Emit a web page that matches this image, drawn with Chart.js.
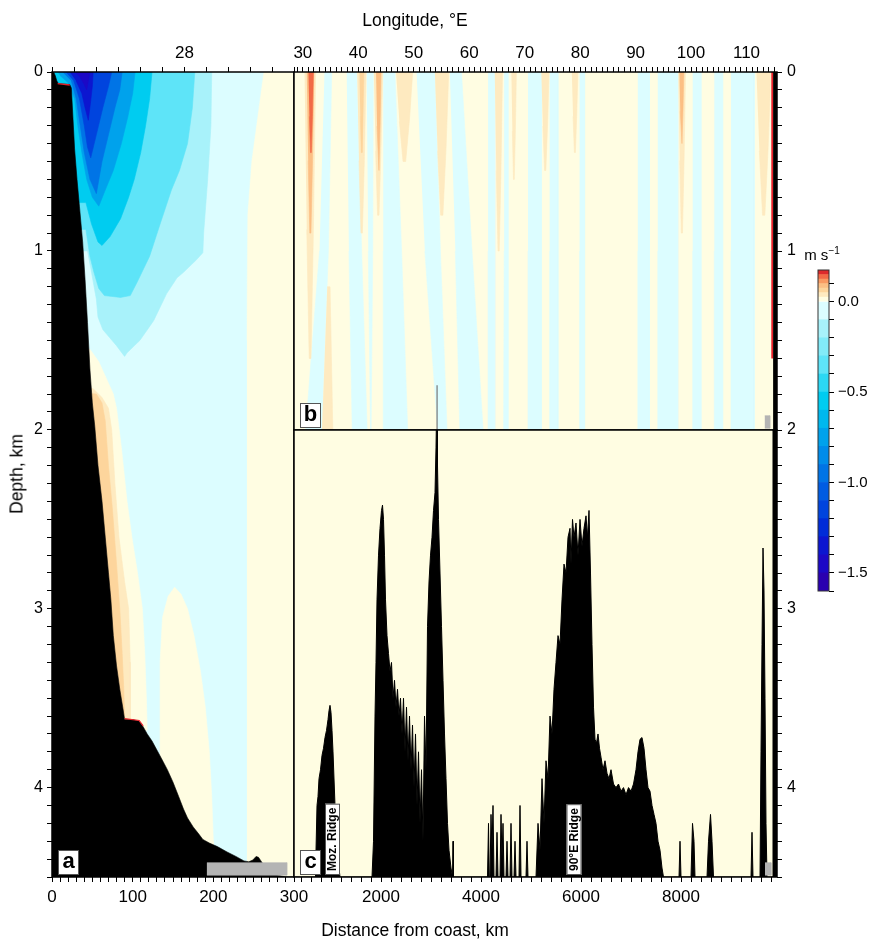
<!DOCTYPE html>
<html>
<head>
<meta charset="utf-8">
<script src="https://cdn.jsdelivr.net/npm/chart.js@4.4.0/dist/chart.umd.min.js"></script>
<style>
  body { margin:0; background:#fff; width:877px; height:939px; position:relative; overflow:hidden;
         font-family:"Liberation Sans", Arial, sans-serif; }
  canvas { position:absolute; }
  .lbl { position:absolute; color:#000; white-space:nowrap; transform:translate(-50%,-50%); }
</style>
</head>
<body>
<canvas id="panelA" width="320" height="939" style="left:0;top:0"></canvas>
<canvas id="panelB" width="597" height="440" style="left:280px;top:0"></canvas>
<canvas id="panelC" width="597" height="519" style="left:280px;top:420px"></canvas>
<canvas id="cbar" width="87" height="370" style="left:790px;top:240px"></canvas>
<div class="lbl" style="left:415px;top:20px;font-size:17.5px">Longitude, °E</div>
<div class="lbl" style="left:415px;top:930px;font-size:17.5px">Distance from coast, km</div>
<div class="lbl" style="left:17px;top:474px;font-size:17.5px;transform:translate(-50%,-50%) rotate(-90deg)">Depth, km</div>
<div class="lbl" style="left:822px;top:254px;font-size:15px">m s<sup style="font-size:10px">−1</sup></div>
<script>
const FONT = "'Liberation Sans', Arial, Helvetica, sans-serif";

// colour scale, m/s
const cbEdges = [-1.6,-1.5,-1.4,-1.3,-1.2,-1.1,-1.0,-0.9,-0.8,-0.7,-0.6,-0.5,-0.4,-0.3,-0.2,-0.1,0,0.025,0.05,0.075,0.1,0.125,0.15,0.175];
const cbColors = ['#2a00b0','#1c08c6','#0c16d0','#002cd8','#0044de','#005ce2','#0074e6','#008cea','#00a2ec','#00b8ee','#00ccf0','#2cd8f4','#5ee4f8','#82ebf8','#a8f2fa','#dcfdff','#fffde2','#feeac0','#fdd59c','#fcbf84','#f99a62','#f26a46','#dc2a2c'];
const cbTickLabels = [0, -0.5, -1.0, -1.5];

// axis tick labels
const distLabelsA = [0, 100, 200, 300];
const lonLabelsA = [28];
const depthLabels = [0, 1, 2, 3, 4];
const lonLabelsB = [30, 40, 50, 60, 70, 80, 90, 100, 110];
const distLabelsC = [2000, 4000, 6000, 8000];

// panel a: velocity regions [distance km, depth km] and their velocity
const regionBgA = [[0,0],[300,0],[300,4.5],[0,4.5]];
const velBgA = 0.01;
const regionE = [[0,0],[262,0],[256,0.2],[247,0.5],[242,0.8],[241,1.5],[241,4.5],[0,4.5]];
const velE = -0.05;
const regionDome = [[134,4.5],[134,3.7],[134,3.3],[137,3.05],[144,2.93],[152,2.88],[160,2.92],[168,3.0],[176,3.15],[184,3.35],[190,3.55],[195,3.8],[198,4.05],[200,4.3],[200,4.5]];
const velDome = 0.01;
const regionP1 = [[0,1.52],[47,1.55],[58,1.62],[68,1.72],[76,1.8],[80,1.88],[86,2.1],[93,2.4],[99,2.6],[106,2.8],[112,3.0],[115,3.25],[117,3.5],[118,3.68],[0,3.68]];
const velP1 = 0.01;
const regionP2 = [[0,1.75],[51,1.77],[62,1.82],[70,1.88],[74,2.0],[78,2.3],[83,2.6],[90,2.85],[95,3.0],[97,3.3],[97,3.64],[0,3.64]];
const velP2 = 0.035;
const regionP3 = [[0,1.78],[55,1.8],[62,1.85],[66,1.95],[70,2.2],[75,2.45],[80,2.75],[84,3.0],[87,3.25],[89,3.45],[90,3.62],[0,3.62]];
const velP3 = 0.06;
const regionD = [[0,0],[198,0],[197,0.3],[193,0.6],[188,0.9],[187,1.01],[179,1.05],[163,1.12],[155,1.15],[142,1.24],[126,1.39],[109,1.5],[93,1.57],[90,1.59],[80,1.53],[63,1.44],[57,1.37],[55,1.27],[49,1.12],[44,1.0],[0,1.0]];
const velD = -0.15;
const regionC = [[0,0],[177,0],[174,0.2],[168,0.4],[158,0.55],[148,0.66],[134,0.85],[121,1.03],[105,1.18],[97,1.25],[85,1.26],[65,1.25],[58,1.21],[52,1.12],[47,1.03],[42,0.88],[0,0.88]];
const velC = -0.35;
const regionB = [[0,0],[124,0],[121,0.15],[116,0.3],[110,0.45],[102,0.6],[95,0.7],[85,0.82],[72,0.92],[62,0.97],[57,0.95],[49,0.85],[42,0.73],[0,0.73]];
const velB = -0.55;
const regionL4 = [[7,0],[103,0],[100,0.12],[94,0.25],[86,0.4],[76,0.55],[66,0.66],[58,0.75],[50,0.7],[43,0.6],[37,0.45],[32,0.3],[28,0.15],[20,0.06],[10,0.02]];
const velL4 = -0.75;
const regionL3 = [[13,0],[87,0],[84,0.1],[78,0.2],[70,0.35],[62,0.5],[55,0.68],[47,0.6],[40,0.45],[35,0.3],[30,0.15],[24,0.05]];
const velL3 = -0.95;
const regionL2 = [[17,0],[74,0],[70,0.08],[63,0.2],[55,0.35],[48,0.48],[44,0.42],[40,0.3],[34,0.15],[27,0.05]];
const velL2 = -1.15;
const regionL1 = [[22,0],[51,0],[50,0.08],[48,0.16],[45,0.27],[41,0.2],[37,0.12],[30,0.05]];
const velL1 = -1.35;
const regionL0 = [[28,0],[47,0],[45,0.05],[43,0.1],[40,0.07],[35,0.03]];
const velL0 = -1.45;
const bathyA = [[0,0],[2,0],[4,0.02],[6,0.05],[8,0.065],[22,0.07],[24,0.09],[26,0.26],[28,0.43],[31,0.6],[34,0.75],[38,0.95],[41,1.16],[44,1.4],[47,1.66],[50,1.85],[53,1.98],[57,2.2],[62,2.4],[66,2.6],[70,2.8],[73,2.95],[76,3.15],[80,3.32],[84,3.45],[88,3.56],[90,3.62],[100,3.62],[108,3.63],[113,3.66],[118,3.7],[124,3.74],[130,3.79],[136,3.84],[143,3.9],[150,3.97],[157,4.05],[163,4.12],[168,4.17],[175,4.22],[182,4.26],[187,4.29],[195,4.31],[205,4.33],[217,4.36],[228,4.385],[238,4.41],[244,4.415],[249,4.405],[253,4.385],[256,4.39],[259,4.41],[262,4.43],[268,4.46],[280,4.49],[290,4.5],[300,4.5],[0,4.5]];
const redShelfA = [[7,0.065],[22,0.072]];
const redPlateauA = [[90,3.615],[108,3.625],[113,3.655]];
const grayBoxA = [[192,4.42],[291,4.42],[291,4.49],[192,4.49]];

// panel b: westward (cyan) stripes, lon edges at 0, 1 and 2 km depth
const cyanStripesB = [
  [33.9,35.2, 33.0,34.6, 30.5,33.4],
  [37.9,39.7, 38.3,40.6, 38.9,41.6],
  [41.5,42.7, 41.8,42.6, 42.2,42.3],
  [44.5,46.6, 44.5,47.8, 44.5,48.9],
  [50.5,53.8, 52.0,54.8, 54.3,56.0],
  [56.5,58.6, 57.5,60.5, 58.3,62.5],
  [63.4,64.6, 63.4,64.6, 63.4,64.6],
  [66.3,67.0, 66.3,67.0, 66.2,67.0],
  [70.6,73.0, 70.6,73.0, 70.6,73.0],
  [74.5,76.0, 74.5,76.0, 74.5,76.0],
  [79.9,80.8, 79.9,80.8, 79.9,80.8],
  [90.4,92.5, 90.4,92.5, 90.4,92.5],
  [94.0,97.6, 94.0,97.6, 94.0,97.6],
  [100.3,101.8, 100.3,101.8, 100.3,101.8],
  [104.2,105.7, 104.2,105.7, 104.2,105.7],
  [107.2,111.4, 107.2,111.4, 107.2,111.4]
];
const velCyanB = -0.05;
// eastward streaks that thin out with depth: [lon from, lon to, bottom depth, velocity]
const warmStreaksB = [
  [30.3,32.3,1.6,0.04],[30.7,32.0,0.9,0.08],[31.0,31.9,0.45,0.13],
  [39.8,41.4,0.9,0.04],[40.2,41.0,0.45,0.06],
  [42.8,44.4,0.8,0.04],[43.2,44.1,0.55,0.08],
  [46.8,49.8,0.5,0.04],[53.8,56.3,0.8,0.04],
  [64.6,66.0,1.0,0.04],[67.6,68.5,0.6,0.04],[73.0,74.4,0.55,0.04],
  [78.5,79.6,0.45,0.04],[97.7,99.0,0.9,0.04],[97.9,98.7,0.4,0.08],
  [111.8,114.4,0.8,0.04]
];
// deep eastward patch near 34E: [lon, depth] outline and velocity
const deepPatchB = [[34.4,1.2],[34.9,1.2],[35.4,2.0],[33.45,2.0]];
const velDeepPatchB = 0.04;
const peakLineB = [[54.2,1.75],[54.2,2.0]];
const redEdgeB = [[114.65,0],[114.65,1.6]];
const coastB = [[114.8,0],[115.5,0],[115.5,2],[114.8,2]];
const grayBoxB = [[113.3,1.92],[114.2,1.92],[114.2,1.99],[113.3,1.99]];

// panel c: bottom depth along the section [distance km, depth km]
const bathyC = [
  [260,4.5],[690,4.5],[700,4.35],[720,4.1],[740,4.05],[760,3.95],[790,3.9],[820,3.82],[850,3.78],[880,3.72],[910,3.68],[940,3.62],[960,3.57],[980,3.54],[1000,3.58],[1020,3.68],[1040,3.8],[1080,4.1],[1120,4.3],[1160,4.45],[1180,4.5],
  [1820,4.5],[1850,4.3],[1880,3.6],[1900,3.3],[1920,2.95],[1950,2.7],[1980,2.55],[2010,2.45],[2030,2.42],[2050,2.5],[2070,2.7],[2090,2.95],[2120,3.15],[2150,3.25],[2180,3.35],[2210,3.3],[2240,3.5],[2270,3.4],[2300,3.55],[2330,3.45],[2360,3.6],[2390,3.5],[2420,3.7],[2450,3.5],[2480,3.8],[2510,3.55],[2540,3.85],[2570,3.6],[2600,3.9],[2630,3.65],[2660,4.0],[2690,3.7],[2720,4.1],[2750,3.8],[2780,4.2],[2810,3.9],[2840,4.3],[2870,3.6],[2900,3.9],[2930,3.1],[2960,2.85],[2990,2.7],[3020,2.6],[3050,2.45],[3080,2.35],[3100,2.1],[3120,1.75],[3130,2.2],[3150,2.5],[3180,2.8],[3210,3.1],[3240,3.4],[3270,3.7],[3300,3.95],[3330,4.2],[3360,4.35],[3400,4.45],[3430,4.5],[3440,4.3],[3450,4.5],
  [4130,4.5],[4150,4.2],[4165,4.5],[4180,4.5],[4200,4.15],[4220,4.35],[4240,4.1],[4260,4.5],[4300,4.5],[4320,4.25],[4340,4.5],[4380,4.5],[4400,4.15],[4420,4.4],[4440,4.2],[4460,4.5],[4500,4.5],[4520,4.3],[4540,4.5],[4580,4.5],[4600,4.2],[4620,4.5],[4660,4.5],[4680,4.3],[4700,4.5],[4760,4.5],[4780,4.1],[4800,4.5],[4900,4.5],[4920,4.3],[4940,4.5],
  [5100,4.5],[5140,4.2],[5180,4.35],[5220,3.95],[5260,4.2],[5300,3.85],[5340,3.95],[5380,3.6],[5420,3.7],[5460,3.45],[5500,3.3],[5540,3.15],[5580,3.2],[5620,2.95],[5660,2.75],[5700,2.8],[5740,2.6],[5780,2.55],[5800,2.75],[5830,2.5],[5860,2.6],[5900,2.52],[5940,2.7],[5980,2.5],[6020,2.65],[6060,2.55],[6100,2.48],[6130,2.6],[6160,2.45],[6190,2.8],[6220,3.2],[6250,3.55],[6280,3.73],[6310,3.75],[6340,3.7],[6370,3.78],[6400,3.83],[6440,3.9],[6480,3.85],[6520,3.92],[6560,3.95],[6600,3.9],[6650,3.98],[6700,4.0],[6750,3.98],[6800,4.02],[6850,4.0],[6900,4.04],[6950,4.0],[7000,4.02],[7050,3.98],[7100,3.9],[7140,3.8],[7180,3.73],[7220,3.72],[7260,3.78],[7300,3.9],[7340,4.0],[7380,4.02],[7420,4.1],[7460,4.15],[7500,4.2],[7540,4.3],[7580,4.35],[7620,4.45],[7650,4.5],
  [7960,4.5],[7980,4.3],[8000,4.5],[8200,4.5],[8230,4.2],[8260,4.3],[8280,4.5],[8520,4.5],[8550,4.3],[8590,4.15],[8620,4.3],[8650,4.5],[9400,4.5],[9420,4.25],[9440,4.5],
  [9580,4.5],[9600,3.8],[9620,3.2],[9640,2.66],[9660,2.9],[9680,3.5],[9700,4.2],[9720,4.5],[9920,4.5]
];
const coastC = [[9830,2.0],[9920,2.0],[9920,4.5],[9830,4.5]];
const grayBoxC = [[9680,4.42],[9800,4.42],[9800,4.49],[9680,4.49]];

function colorOf(v) {
  for (let i = 0; i < cbColors.length; i++) {
    if (v >= cbEdges[i] && v < cbEdges[i + 1]) return cbColors[i];
  }
  return cbColors[cbColors.length - 1];
}

function range(a, b, step) {
  const out = [];
  for (let v = a; v <= b + step * 1e-6; v += step) out.push(Math.round(v * 1000) / 1000);
  return out;
}

function poly(points, color, extra) {
  return Object.assign({
    type: 'line', showLine: true,
    data: points.map(p => ({x: p[0], y: p[1]})),
    backgroundColor: color, borderColor: color, borderWidth: 0.6,
    pointRadius: 0, fill: 'shape', tension: 0
  }, extra || {});
}

function stroke(points, color, width) {
  return poly(points, color, {fill: false, borderWidth: width});
}

const rect = (x0, x1, y0, y1) => [[x0,y0],[x1,y0],[x1,y1],[x0,y1]];

// stripe outline from its edges at 0, 1 and 2 km depth
const stripe = s => [[s[0],0],[s[1],0],[s[3],1],[s[5],2],[s[4],2],[s[2],1]];

// streak narrowing towards its lower end
function taper(s) {
  const w = s[1] - s[0], mid = (s[0] + s[1]) / 2;
  return [[s[0],0],[s[1],0],[s[1] - w * 0.2, s[2] * 0.55],[mid + w * 0.08, s[2]],[mid - w * 0.08, s[2]],[s[0] + w * 0.2, s[2] * 0.55]];
}

// bottom layer first
function layered(list) {
  return list.map((d, i) => Object.assign(d, {order: list.length - i}));
}

function axis(o) {
  return {
    type: 'linear', position: o.pos, min: o.min, max: o.max, reverse: !!o.reverse,
    display: true,
    afterBuildTicks: s => { s.ticks = o.ticks.map(v => ({value: v})); },
    afterFit: s => {
      if (o.pos === 'top' || o.pos === 'bottom') s.height = o.size; else s.width = o.size;
      s.paddingLeft = s.paddingRight = s.paddingTop = s.paddingBottom = 0;
    },
    ticks: {
      autoSkip: false, maxRotation: 0, minRotation: 0, padding: o.pad, color: '#000',
      font: {family: FONT, size: o.fs},
      callback: v => {
        const m = o.labels.find(l => Math.abs(l - v) < 1e-6);
        return m === undefined ? '' : (o.fmt ? o.fmt(m) : String(m));
      }
    },
    grid: {display: true, drawOnChartArea: false, drawTicks: true, tickLength: 5, color: '#000', lineWidth: 1},
    border: {display: false}
  };
}

const framePlugin = {
  id: 'frame',
  afterDraw(chart, args, opts) {
    const {ctx, chartArea: a} = chart;
    ctx.save();
    ctx.strokeStyle = opts.color || '#000';
    ctx.lineWidth = opts.width || 1.5;
    ctx.strokeRect(a.left, a.top, a.right - a.left, a.bottom - a.top);
    ctx.restore();
  }
};

const tagPlugin = {
  id: 'tags',
  afterDraw(chart, args, opts) {
    const {ctx, chartArea: a} = chart;
    ctx.save();
    (opts.items || []).forEach(t => {
      if (t.panel) {
        const x = a.left + 6, y = a.bottom - 27;
        ctx.fillStyle = '#fff';
        ctx.fillRect(x, y, 21, 25);
        ctx.strokeStyle = '#555';
        ctx.lineWidth = 1;
        ctx.strokeRect(x + 0.5, y + 0.5, 20, 24);
        ctx.fillStyle = '#000';
        ctx.font = 'bold 22px ' + FONT;
        ctx.textAlign = 'center';
        ctx.textBaseline = 'middle';
        ctx.fillText(t.text, x + 10.5, y + 12);
      } else {
        const px = chart.scales.x.getPixelForValue(t.x);
        ctx.translate(px, a.bottom - 2);
        ctx.rotate(-Math.PI / 2);
        ctx.font = 'bold 12px ' + FONT;
        const w = ctx.measureText(t.text).width + 8;
        ctx.fillStyle = '#fff';
        ctx.fillRect(0, -7.5, w, 15);
        ctx.strokeStyle = '#555';
        ctx.lineWidth = 1;
        ctx.strokeRect(0.5, -7, w - 1, 14);
        ctx.fillStyle = '#000';
        ctx.textAlign = 'left';
        ctx.textBaseline = 'middle';
        ctx.fillText(t.text, 4, 0.5);
        ctx.setTransform(1, 0, 0, 1, 0, 0);
      }
    });
    ctx.restore();
  }
};

const common = {
  responsive: false, animation: false, events: [],
  plugins: {legend: {display: false}, tooltip: {enabled: false}}
};

// panel a
new Chart(document.getElementById('panelA'), {
  type: 'line',
  data: {datasets: layered([
    poly(regionBgA, colorOf(velBgA)),
    poly(regionE, colorOf(velE)),
    poly(regionDome, colorOf(velDome)),
    poly(regionP1, colorOf(velP1)),
    poly(regionP2, colorOf(velP2)),
    poly(regionP3, colorOf(velP3)),
    poly(regionD, colorOf(velD)),
    poly(regionC, colorOf(velC)),
    poly(regionB, colorOf(velB)),
    poly(regionL4, colorOf(velL4)),
    poly(regionL3, colorOf(velL3)),
    poly(regionL2, colorOf(velL2)),
    poly(regionL1, colorOf(velL1)),
    poly(regionL0, colorOf(velL0)),
    poly(bathyA, '#000'),
    stroke(redShelfA, '#e8202a', 1.5),
    stroke(redPlateauA, '#e8202a', 1.2),
    poly(grayBoxA, '#b4b4b4')
  ])},
  options: Object.assign({}, common, {
    layout: {padding: {right: 26}},
    plugins: Object.assign({}, common.plugins, {frame: {width: 1.5}, tags: {items: [{panel: true, text: 'a'}]}}),
    scales: {
      x: axis({pos: 'bottom', min: 0, max: 300, ticks: range(0, 300, 10), labels: distLabelsA, size: 62, pad: 5, fs: 17}),
      lonA: axis({pos: 'top', min: 26.49, max: 29.25, ticks: range(26.5, 29.25, 0.25), labels: lonLabelsA, size: 72, pad: 3, fs: 17}),
      y: axis({pos: 'left', min: 0, max: 4.5, reverse: true, ticks: range(0, 4.5, 0.1), labels: depthLabels, size: 52, pad: 4, fs: 16})
    }
  }),
  plugins: [framePlugin, tagPlugin]
});

// panel b
new Chart(document.getElementById('panelB'), {
  type: 'line',
  data: {datasets: layered([
    poly(rect(28.4, 115.5, 0, 2), colorOf(0.01)),
    ...cyanStripesB.map(s => poly(stripe(s), colorOf(velCyanB))),
    poly(deepPatchB, colorOf(velDeepPatchB)),
    ...warmStreaksB.map(s => poly(taper(s), colorOf(s[3]))),
    stroke(peakLineB, '#777', 1.2),
    stroke(redEdgeB, '#e8202a', 2),
    poly(coastB, '#000'),
    poly(grayBoxB, '#b4b4b4')
  ])},
  options: Object.assign({}, common, {
    layout: {padding: {left: 14, bottom: 10}},
    plugins: Object.assign({}, common.plugins, {frame: {width: 1.5}, tags: {items: [{panel: true, text: 'b'}]}}),
    scales: {
      x: axis({pos: 'top', min: 28.4, max: 115.5, ticks: range(29, 115, 1), labels: lonLabelsB, size: 72, pad: 3, fs: 17}),
      y: axis({pos: 'right', min: 0, max: 2, reverse: true, ticks: range(0, 2, 0.1), labels: depthLabels, size: 100, pad: 5, fs: 16})
    }
  }),
  plugins: [framePlugin, tagPlugin]
});

// panel c
new Chart(document.getElementById('panelC'), {
  type: 'line',
  data: {datasets: layered([
    poly(rect(260, 9920, 2, 4.5), colorOf(0.01)),
    poly(bathyC, '#000', {fill: {value: 4.5}, borderColor: '#000', borderWidth: 1}),
    poly(coastC, '#000'),
    poly(grayBoxC, '#b4b4b4')
  ])},
  options: Object.assign({}, common, {
    layout: {padding: {left: 14, top: 10}},
    plugins: Object.assign({}, common.plugins, {frame: {width: 1.5}, tags: {items: [
      {panel: true, text: 'c'},
      {text: 'Moz. Ridge', x: 1030},
      {text: '90°E Ridge', x: 5860}
    ]}}),
    scales: {
      x: axis({pos: 'bottom', min: 260, max: 9920, ticks: range(400, 9800, 200), labels: distLabelsC, size: 62, pad: 5, fs: 17}),
      y: axis({pos: 'right', min: 2, max: 4.5, reverse: true, ticks: range(2, 4.5, 0.1), labels: [3, 4], size: 100, pad: 5, fs: 16})
    }
  }),
  plugins: [framePlugin, tagPlugin]
});

// colour bar
new Chart(document.getElementById('cbar'), {
  type: 'bar',
  data: {
    labels: ['v'],
    datasets: cbColors.map((c, i) => ({
      data: [[cbEdges[i], cbEdges[i + 1]]], backgroundColor: c, borderWidth: 0,
      grouped: false, barPercentage: 1, categoryPercentage: 1
    }))
  },
  options: Object.assign({}, common, {
    layout: {padding: {left: 28, top: 30, bottom: 19}},
    plugins: Object.assign({}, common.plugins, {frame: {width: 1, color: '#333'}}),
    scales: {
      x: {display: false},
      y: axis({pos: 'right', min: -1.6, max: 0.175, ticks: range(-1.6, 0.1, 0.1), labels: cbTickLabels, size: 48, pad: 4, fs: 15,
        fmt: v => v === 0 ? '0.0' : '\u2212' + Math.abs(v).toFixed(1)})
    }
  }),
  plugins: [framePlugin]
});
</script>
</body>
</html>
